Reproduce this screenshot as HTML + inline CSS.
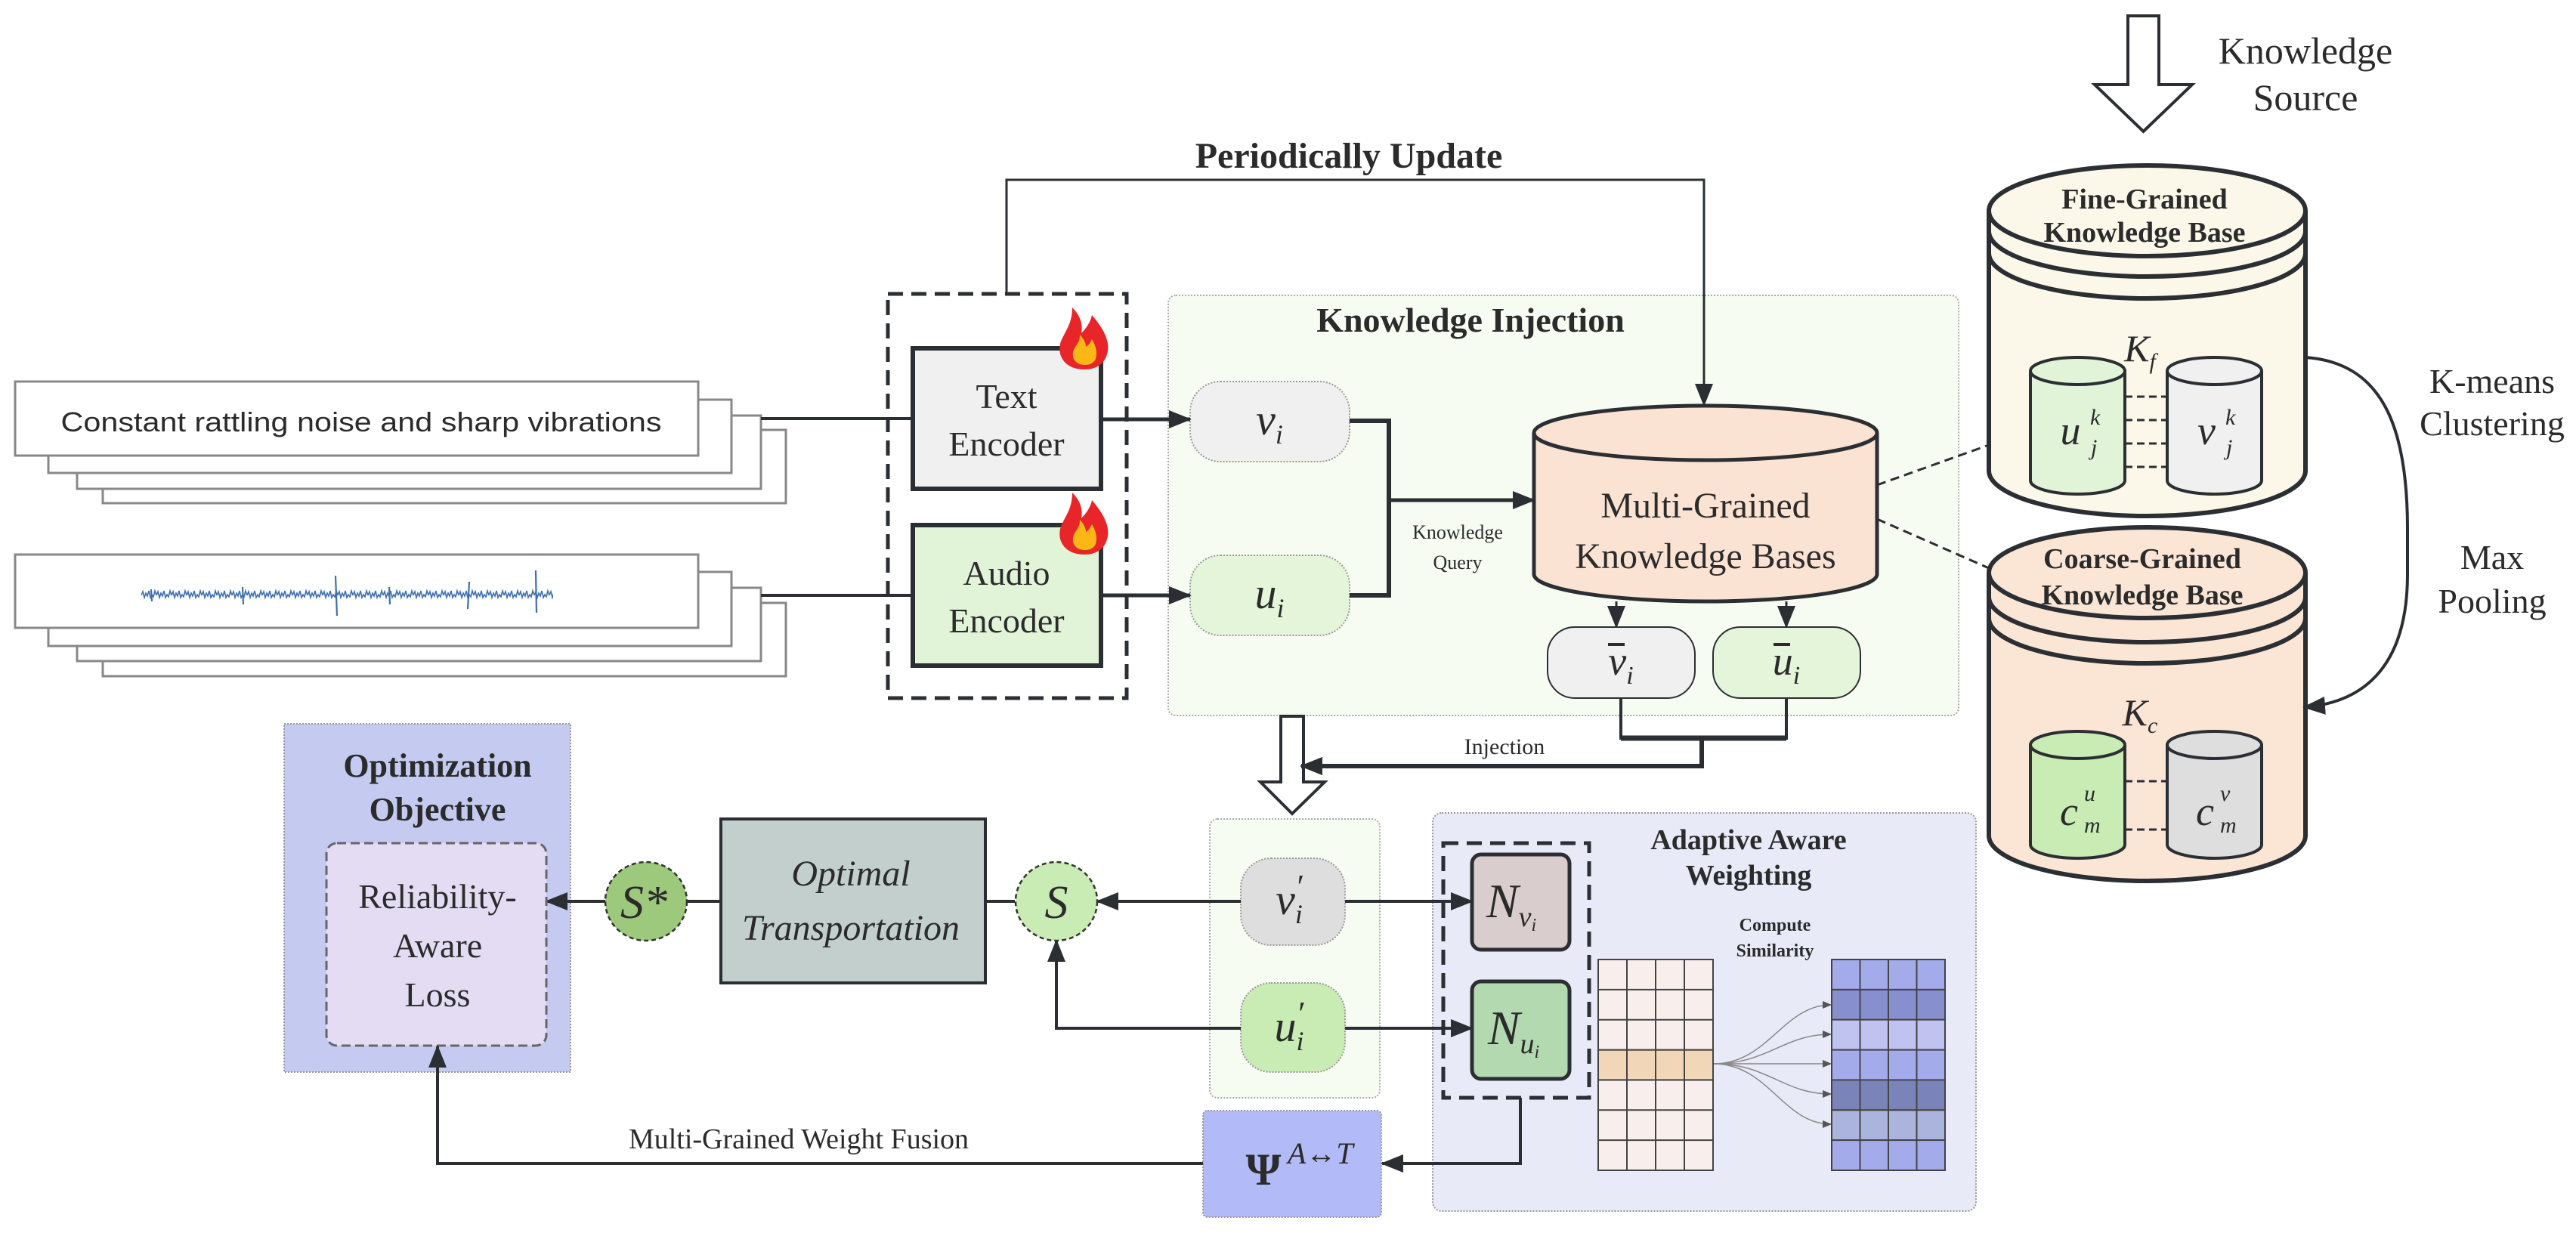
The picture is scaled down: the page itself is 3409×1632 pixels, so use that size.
<!DOCTYPE html>
<html><head><meta charset="utf-8"><style>
html,body{margin:0;padding:0;background:#fff;}
svg{display:block;}
text{font-family:"Liberation Serif",serif;fill:#2b2b2b;}
.b{font-weight:bold;}
.it{font-style:italic;}
</style></head><body>
<svg width="3409" height="1632" viewBox="0 0 3409 1632" xmlns="http://www.w3.org/2000/svg">
<defs>
<marker id="ah" markerUnits="userSpaceOnUse" markerWidth="30" markerHeight="24" refX="28" refY="12" orient="auto">
<path d="M0,0 L30,12 L0,24 Z" fill="#2b2f33"/></marker>
<marker id="as" markerUnits="userSpaceOnUse" markerWidth="12" markerHeight="10" refX="11" refY="5" orient="auto">
<path d="M0,0 L12,5 L0,10 Z" fill="#555"/></marker>
<pattern id="wave" x="187" y="775" width="20" height="26" patternUnits="userSpaceOnUse">
<path d="M0,13 l2,-5 2,8 2,-6 2,4 2,-7 2,9 2,-4 2,3 2,-8 2,6" fill="none" stroke="#3d6fb0" stroke-width="1.6"/></pattern>
<g id="flame">
<path d="M36,82 C12,82 0,66 4,48 C8,34 20,24 20,0 C32,12 34,24 32,34 C38,28 44,20 46,10 C58,24 72,44 66,62 C62,76 50,82 36,82Z" fill="#e8262a"/>
<path d="M36,76 C24,76 18,66 22,56 C26,48 30,46 30,36 C36,42 38,48 38,52 C42,50 44,46 46,42 C52,52 54,62 50,70 C46,75 42,76 36,76Z" fill="#fbb716"/>
</g>
</defs>

<!-- text stack -->
<g fill="#fff" stroke="#888" stroke-width="3">
<rect x="136" y="569" width="904" height="97"/>
<rect x="102" y="550" width="905" height="97"/>
<rect x="64" y="529" width="904" height="97"/>
<rect x="20" y="505" width="904" height="98"/>
</g>
<text x="478" y="571" style="font-family:'Liberation Sans',sans-serif" font-size="36" text-anchor="middle" textLength="795" lengthAdjust="spacingAndGlyphs">Constant rattling noise and sharp vibrations</text>

<!-- audio stack -->
<g fill="#fff" stroke="#888" stroke-width="3">
<rect x="136" y="798" width="904" height="97"/>
<rect x="102" y="778" width="905" height="97"/>
<rect x="64" y="757" width="904" height="98"/>
<rect x="20" y="734" width="904" height="97"/>
</g>
<rect x="187" y="775" width="545" height="26" fill="url(#wave)"/>
<g stroke="#3d6fb0" stroke-width="2.2">
<line x1="444" y1="762" x2="446" y2="815"/>
<line x1="621" y1="770" x2="619" y2="806"/>
<line x1="709" y1="755" x2="710" y2="811"/>
<line x1="321" y1="777" x2="322" y2="800"/>
<line x1="515" y1="777" x2="516" y2="800"/>
<line x1="200" y1="780" x2="201" y2="796"/>
</g>

<g stroke="#2b2f33" stroke-width="4" fill="none">
<path d="M1007,554 H1208"/>
<path d="M1007,788 H1208"/>
</g>

<!-- encoder dashed box -->
<rect x="1175" y="389" width="316" height="535" fill="none" stroke="#2b2f33" stroke-width="5" stroke-dasharray="20 11"/>
<rect x="1208" y="461" width="249" height="186" fill="#f0f0f0" stroke="#2b2f33" stroke-width="6"/>
<rect x="1208" y="695" width="249" height="186" fill="#e2f4d8" stroke="#2b2f33" stroke-width="6"/>
<text x="1332" y="540" font-size="46" text-anchor="middle">Text</text>
<text x="1332" y="603" font-size="46" text-anchor="middle">Encoder</text>
<text x="1332" y="774" font-size="46" text-anchor="middle">Audio</text>
<text x="1332" y="837" font-size="46" text-anchor="middle">Encoder</text>
<use href="#flame" transform="translate(1399,407)"/>
<use href="#flame" transform="translate(1399,652)"/>

<!-- knowledge injection panel -->
<rect x="1546" y="391" width="1046" height="556" rx="10" fill="#f7fcf2" stroke="#aaa" stroke-width="2" stroke-dasharray="2 2"/>
<text x="1946" y="439" font-size="46" class="b" text-anchor="middle">Knowledge Injection</text>

<!-- periodically update -->
<path d="M1332,389 V238 H2255 V536" fill="none" stroke="#2b2f33" stroke-width="3" marker-end="url(#ah)"/>
<text x="1785" y="222" font-size="48" class="b" text-anchor="middle">Periodically Update</text>

<rect x="1575" y="505" width="211" height="106" rx="40" fill="#f0f0f0" stroke="#999" stroke-width="2" stroke-dasharray="2 2"/>
<rect x="1575" y="735" width="211" height="106" rx="40" fill="#e4f5da" stroke="#999" stroke-width="2" stroke-dasharray="2 2"/>
<text x="1680" y="575" font-size="58" class="it" text-anchor="middle">v<tspan font-size="36" dy="12">i</tspan></text>
<text x="1680" y="805" font-size="58" class="it" text-anchor="middle">u<tspan font-size="36" dy="12">i</tspan></text>
<g stroke="#2b2f33" stroke-width="5" fill="none">
<path d="M1457,555 H1575" marker-end="url(#ah)"/>
<path d="M1457,788 H1575" marker-end="url(#ah)"/>
<path d="M1786,557 H1838 V788 H1786" stroke-width="6"/>
<path d="M1838,662 H2030" marker-end="url(#ah)"/>
</g>
<text x="1929" y="713" font-size="26" text-anchor="middle">Knowledge</text>
<text x="1929" y="753" font-size="26" text-anchor="middle">Query</text>

<!-- MGKB cylinder -->
<path d="M2030,573 V760 A227,36 0 0 0 2484,760 V573" fill="#fbe3d3" stroke="#2b2f33" stroke-width="5"/>
<ellipse cx="2257" cy="573" rx="227" ry="36" fill="#fbe3d3" stroke="#2b2f33" stroke-width="5"/>
<text x="2257" y="685" font-size="48" text-anchor="middle">Multi-Grained</text>
<text x="2257" y="752" font-size="48" text-anchor="middle">Knowledge Bases</text>
<g stroke="#2b2f33" stroke-width="3" fill="none">
<path d="M2139,796 V830" marker-end="url(#ah)"/>
<path d="M2364,796 V830" marker-end="url(#ah)"/>
</g>
<rect x="2048" y="830" width="195" height="94" rx="36" fill="#f0f0f0" stroke="#2b2f33" stroke-width="2"/>
<rect x="2267" y="830" width="195" height="94" rx="36" fill="#e4f5da" stroke="#2b2f33" stroke-width="2"/>
<text x="2145" y="893" font-size="54" class="it" text-anchor="middle">v<tspan font-size="34" dy="12">i</tspan></text>
<text x="2364" y="893" font-size="54" class="it" text-anchor="middle">u<tspan font-size="34" dy="12">i</tspan></text>
<line x1="2128" y1="853" x2="2150" y2="853" stroke="#2b2b2b" stroke-width="4"/>
<line x1="2347" y1="853" x2="2369" y2="853" stroke="#2b2b2b" stroke-width="4"/>
<g stroke="#2b2f33" fill="none">
<path d="M2145,924 V977 H2364 V924" stroke-width="4"/>
<path d="M2145,977 H2364" stroke-width="7"/>
<path d="M2252,977 V1014 H1722" stroke-width="6" marker-end="url(#ah)"/>
</g>
<text x="1991" y="998" font-size="30" text-anchor="middle">Injection</text>

<polygon points="1695,948 1725,948 1725,1035 1753,1035 1710,1077 1668,1035 1695,1035" fill="#fff" stroke="#2b2f33" stroke-width="4"/>
<path d="M1760,1014 H1722" stroke="#2b2f33" stroke-width="6" marker-end="url(#ah)"/>

<g stroke="#2b2f33" stroke-width="3" stroke-dasharray="12 7">
<path d="M2484,642 L2632,589"/>
<path d="M2484,687 L2632,752"/>
</g>

<polygon points="2816,21 2857,21 2857,112 2901,112 2836.5,174 2772,112 2816,112" fill="#fff" stroke="#2b2f33" stroke-width="4"/>
<text x="3051" y="84" font-size="50" text-anchor="middle">Knowledge</text>
<text x="3051" y="146" font-size="50" text-anchor="middle">Source</text>

<!-- fine-grained cylinder -->
<path d="M2632,279 V623 A209.5,60 0 0 0 3051,623 V279" fill="#fbf8ea" stroke="#2b2f33" stroke-width="6"/>
<path d="M2632,306 A209.5,60 0 0 0 3051,306" fill="none" stroke="#2b2f33" stroke-width="6"/>
<path d="M2632,335 A209.5,60 0 0 0 3051,335" fill="none" stroke="#2b2f33" stroke-width="6"/>
<ellipse cx="2841.5" cy="279" rx="209.5" ry="60" fill="#fbf8ea" stroke="#2b2f33" stroke-width="6"/>
<text x="2838" y="276" font-size="38" class="b" text-anchor="middle">Fine-Grained</text>
<text x="2838" y="320" font-size="38" class="b" text-anchor="middle">Knowledge Base</text>
<text x="2832" y="478" font-size="50" class="it" text-anchor="middle">K<tspan font-size="30" dy="10">f</tspan></text>
<g stroke="#2b2f33" stroke-width="4">
<path d="M2687,491 V636 A62.5,18 0 0 0 2812,636 V491" fill="#e2f4d8"/>
<ellipse cx="2749.5" cy="491" rx="62.5" ry="18" fill="#e2f4d8"/>
<path d="M2868,491 V636 A62.5,18 0 0 0 2993,636 V491" fill="#f0f0f0"/>
<ellipse cx="2930.5" cy="491" rx="62.5" ry="18" fill="#f0f0f0"/>
</g>
<g stroke="#2b2f33" stroke-width="3" stroke-dasharray="10 6">
<path d="M2812,525 H2868"/><path d="M2812,556 H2868"/><path d="M2812,587 H2868"/><path d="M2812,618 H2868"/>
</g>
<text x="2740" y="588" font-size="54" class="it" text-anchor="middle">u</text>
<text x="2766" y="562" font-size="30" class="it">k</text><text x="2767" y="602" font-size="30" class="it">j</text>
<text x="2920" y="588" font-size="54" class="it" text-anchor="middle">v</text>
<text x="2945" y="562" font-size="30" class="it">k</text><text x="2946" y="602" font-size="30" class="it">j</text>

<!-- coarse-grained cylinder -->
<path d="M2632,758 V1106 A209.5,60 0 0 0 3051,1106 V758" fill="#fbe6d6" stroke="#2b2f33" stroke-width="6"/>
<path d="M2632,790 A209.5,60 0 0 0 3051,790" fill="none" stroke="#2b2f33" stroke-width="6"/>
<path d="M2632,818 A209.5,60 0 0 0 3051,818" fill="none" stroke="#2b2f33" stroke-width="6"/>
<ellipse cx="2841.5" cy="758" rx="209.5" ry="60" fill="#fbe6d6" stroke="#2b2f33" stroke-width="6"/>
<text x="2835" y="752" font-size="38" class="b" text-anchor="middle">Coarse-Grained</text>
<text x="2835" y="800" font-size="38" class="b" text-anchor="middle">Knowledge Base</text>
<text x="2832" y="960" font-size="50" class="it" text-anchor="middle">K<tspan font-size="30" dy="10">c</tspan></text>
<g stroke="#2b2f33" stroke-width="4">
<path d="M2687,986 V1118 A62.5,18 0 0 0 2812,1118 V986" fill="#c9ebb4"/>
<ellipse cx="2749.5" cy="986" rx="62.5" ry="18" fill="#c9ebb4"/>
<path d="M2868,986 V1118 A62.5,18 0 0 0 2993,1118 V986" fill="#dedede"/>
<ellipse cx="2930.5" cy="986" rx="62.5" ry="18" fill="#dedede"/>
</g>
<g stroke="#2b2f33" stroke-width="3" stroke-dasharray="10 6">
<path d="M2812,1034 H2868"/><path d="M2812,1098 H2868"/>
</g>
<text x="2738" y="1092" font-size="54" class="it" text-anchor="middle">c</text>
<text x="2758" y="1060" font-size="30" class="it">u</text><text x="2758" y="1102" font-size="30" class="it">m</text>
<text x="2918" y="1092" font-size="54" class="it" text-anchor="middle">c</text>
<text x="2938" y="1060" font-size="30" class="it">v</text><text x="2938" y="1102" font-size="30" class="it">m</text>

<path d="M3051,473 C3150,480 3186,560 3186,700 L3186,760 C3186,880 3130,930 3049,936" fill="none" stroke="#2b2f33" stroke-width="4" marker-end="url(#ah)"/>
<text x="3298" y="520" font-size="46" text-anchor="middle">K-means</text>
<text x="3298" y="576" font-size="46" text-anchor="middle">Clustering</text>
<text x="3298" y="753" font-size="46" text-anchor="middle">Max</text>
<text x="3298" y="811" font-size="46" text-anchor="middle">Pooling</text>

<!-- panels drawn first -->
<rect x="1896" y="1076" width="719" height="527" rx="12" fill="#e8eaf8" stroke="#999" stroke-width="2" stroke-dasharray="2 2"/>
<rect x="1601" y="1084" width="225" height="369" rx="10" fill="#f7fcf2" stroke="#aaa" stroke-width="2" stroke-dasharray="2 2"/>
<rect x="376" y="958" width="379" height="461" fill="#c5caf0" stroke="#999" stroke-width="2" stroke-dasharray="2 2"/>

<rect x="1642" y="1136" width="138" height="115" rx="40" fill="#dedede" stroke="#999" stroke-width="2" stroke-dasharray="2 2"/>
<rect x="1642" y="1301" width="138" height="118" rx="40" fill="#c9ebb4" stroke="#999" stroke-width="2" stroke-dasharray="2 2"/>
<text x="1706" y="1210" font-size="58" class="it" text-anchor="middle">v<tspan font-size="36" dy="12">i</tspan><tspan font-size="44" dy="-34" dx="-10">′</tspan></text>
<text x="1706" y="1378" font-size="58" class="it" text-anchor="middle">u<tspan font-size="36" dy="12">i</tspan><tspan font-size="44" dy="-34" dx="-10">′</tspan></text>

<g stroke="#2b2f33" stroke-width="4" fill="none">
<path d="M1642,1193 H1452" marker-end="url(#ah)"/>
<path d="M1343,1193 H1304"/>
<path d="M954,1193 H909"/>
<path d="M801,1193 H723" marker-end="url(#ah)"/>
<path d="M1642,1361 H1398 V1245" marker-end="url(#ah)"/>
<path d="M1780,1193 H1948" marker-end="url(#ah)"/>
<path d="M1780,1361 H1948" marker-end="url(#ah)"/>
</g>
<ellipse cx="1398" cy="1193" rx="54" ry="52" fill="#c9ebb4" stroke="#333" stroke-width="2.5" stroke-dasharray="6 4"/>
<ellipse cx="855" cy="1193" rx="54" ry="52" fill="#9dc97d" stroke="#333" stroke-width="2.5" stroke-dasharray="6 4"/>
<text x="1398" y="1215" font-size="62" class="it" text-anchor="middle">S</text>
<text x="852" y="1215" font-size="62" class="it" text-anchor="middle">S*</text>
<rect x="954" y="1084" width="350" height="217" fill="#c3cfcd" stroke="#2b2f33" stroke-width="4"/>
<text x="1126" y="1172" font-size="48" class="it" text-anchor="middle">Optimal</text>
<text x="1126" y="1244" font-size="48" class="it" text-anchor="middle">Transportation</text>

<text x="579" y="1028" font-size="44" class="b" text-anchor="middle">Optimization</text>
<text x="579" y="1086" font-size="44" class="b" text-anchor="middle">Objective</text>
<rect x="432" y="1116" width="291" height="268" rx="14" fill="#e3dcf3" stroke="#666" stroke-width="3" stroke-dasharray="12 6"/>
<text x="579" y="1202" font-size="46" text-anchor="middle">Reliability-</text>
<text x="579" y="1267" font-size="46" text-anchor="middle">Aware</text>
<text x="579" y="1332" font-size="46" text-anchor="middle">Loss</text>

<text x="2314" y="1124" font-size="38" class="b" text-anchor="middle">Adaptive Aware</text>
<text x="2314" y="1171" font-size="38" class="b" text-anchor="middle">Weighting</text>
<rect x="1910" y="1116" width="193" height="337" fill="none" stroke="#2b2f33" stroke-width="5" stroke-dasharray="20 11"/>
<rect x="1948" y="1131" width="129" height="126" rx="12" fill="#d9cecd" stroke="#2b2f33" stroke-width="5"/>
<rect x="1948" y="1299" width="129" height="129" rx="12" fill="#b3d9b1" stroke="#2b2f33" stroke-width="5"/>
<text x="2000" y="1214" font-size="64" class="it" text-anchor="middle">N<tspan font-size="38" dy="12">v</tspan><tspan font-size="24" dy="6">i</tspan></text>
<text x="2003" y="1382" font-size="64" class="it" text-anchor="middle">N<tspan font-size="38" dy="12">u</tspan><tspan font-size="24" dy="6">i</tspan></text>
<text x="2349" y="1232" font-size="24" class="b" text-anchor="middle">Compute</text>
<text x="2349" y="1266" font-size="24" class="b" text-anchor="middle">Similarity</text>

<g stroke="#444" stroke-width="2">
<rect x="2115" y="1270" width="152" height="279" fill="#f8efed"/>
<rect x="2115" y="1389.6" width="152" height="39.9" fill="#f1d6b8"/>
<path d="M2153,1270V1549 M2191,1270V1549 M2229,1270V1549 M2115,1309.9H2267 M2115,1349.7H2267 M2115,1389.6H2267 M2115,1429.4H2267 M2115,1469.3H2267 M2115,1509.1H2267" fill="none"/>
</g>
<g stroke="#444" stroke-width="2">
<rect x="2424" y="1270" width="150" height="39.9" fill="#a3abea"/>
<rect x="2424" y="1309.9" width="150" height="39.9" fill="#878fcf"/>
<rect x="2424" y="1349.7" width="150" height="39.9" fill="#c0c2ef"/>
<rect x="2424" y="1389.6" width="150" height="39.9" fill="#a3abea"/>
<rect x="2424" y="1429.4" width="150" height="39.9" fill="#7a84b8"/>
<rect x="2424" y="1469.3" width="150" height="39.9" fill="#aab4dc"/>
<rect x="2424" y="1509.1" width="150" height="39.9" fill="#a3abea"/>
<path d="M2461.5,1270V1549 M2499,1270V1549 M2536.5,1270V1549" fill="none"/>
</g>
<g stroke="#888" stroke-width="1.5" fill="none">
<path d="M2268,1408 C2340,1408 2360,1330 2423,1330" marker-end="url(#as)"/>
<path d="M2268,1408 C2340,1408 2360,1369 2423,1369" marker-end="url(#as)"/>
<path d="M2268,1408 H2423" marker-end="url(#as)"/>
<path d="M2268,1408 C2340,1408 2360,1448 2423,1448" marker-end="url(#as)"/>
<path d="M2268,1408 C2340,1408 2360,1488 2423,1488" marker-end="url(#as)"/>
</g>

<rect x="1592" y="1470" width="236" height="141" rx="6" fill="#b3baf8" stroke="#999" stroke-width="2" stroke-dasharray="2 2"/>
<text x="1672" y="1568" font-size="60" class="b" text-anchor="middle">Ψ</text>
<text x="1704" y="1540" font-size="40" class="it">A↔T</text>
<g stroke="#2b2f33" stroke-width="4" fill="none">
<path d="M2012,1453 V1540 H1829" marker-end="url(#ah)"/>
<path d="M1592,1540 H579 V1385" marker-end="url(#ah)"/>
</g>
<text x="1057" y="1520" font-size="38" text-anchor="middle">Multi-Grained Weight Fusion</text>
</svg>
</body></html>
